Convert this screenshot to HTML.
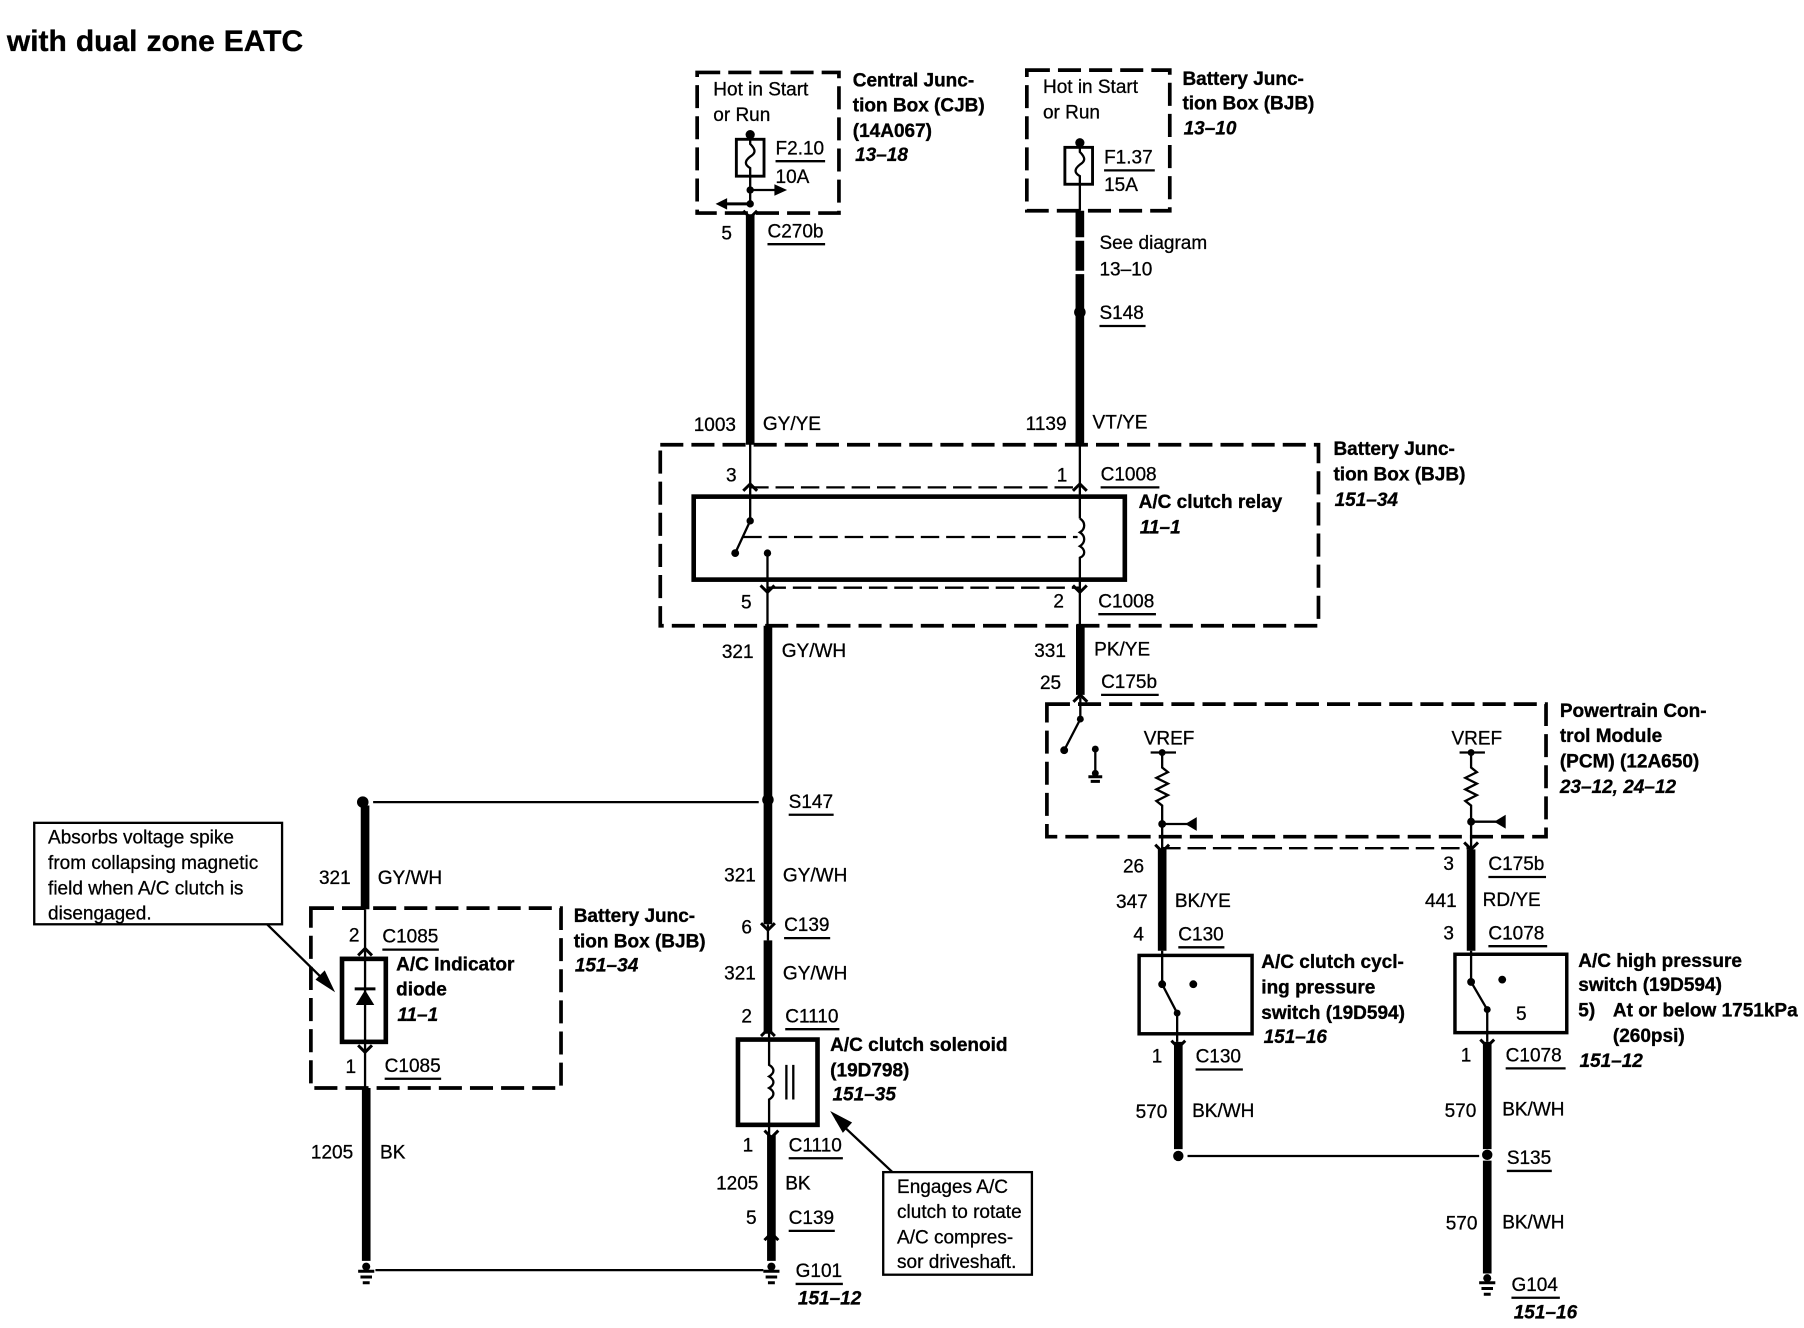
<!DOCTYPE html>
<html><head><meta charset="utf-8"><style>
html,body{margin:0;padding:0;background:#fff}
svg{display:block}
text{font-family:"Liberation Sans",sans-serif;font-size:16.5px;fill:#000;stroke:#000;stroke-width:.25}
.b{font-weight:bold;stroke-width:.3}
.i{font-weight:bold;font-style:italic}
.th{stroke:#000;stroke-width:2;fill:none}
.w{stroke:#000;stroke-width:7.5;fill:none}
.da{stroke:#000;stroke-width:3.2;fill:none;stroke-dasharray:20 7}
.dt{stroke:#000;stroke-width:2;fill:none;stroke-dasharray:16 6}
.bx{stroke:#000;fill:none}
.h{stroke:#000;stroke-width:2.6;fill:none}
</style></head><body>
<svg xmlns="http://www.w3.org/2000/svg" width="1804" height="1328" viewBox="0 0 1565 1152">
<rect width="1565" height="1152" fill="#fff"/>
<text x="6" y="44" style="font-size:26px;font-weight:bold;word-spacing:.6px;stroke-width:.3">with dual zone EATC</text>
<g transform="translate(-1.2,-0.2)">

<!-- top left fuse box -->
<rect class="da" x="606" y="63" width="123" height="122"/>
<text x="620" y="83">Hot in Start</text><text x="620" y="105">or Run</text>
<circle cx="652" cy="117" r="4"/>
<rect class="bx" stroke-width="2.5" x="640" y="121" width="24" height="32"/>
<path class="th" d="M652 117V125C657 130 657 133 652 136C647 140 647 143 652 146V180"/>
<text x="674" y="134">F2.10</text><path class="th" d="M674 140H717"/><text x="674" y="159">10A</text>
<circle cx="652" cy="165" r="3.2"/><circle cx="652" cy="177" r="3.2"/>
<path class="th" d="M652 165H675"/><path d="M673 160L684 165L673 170Z"/>
<path class="h" d="M652 177H630"/><path d="M632 172L622 177L632 182Z"/>
<path class="h" d="M646 183L652 189L658 183"/>
<path class="w" d="M652 186V386"/>
<text x="627" y="208">5</text><text x="667" y="206">C270b</text><path class="th" d="M667 212H717"/>
<text x="603" y="374">1003</text><text x="663" y="373">GY/YE</text>
<text class="b" x="741" y="75">Central Junc-</text><text class="b" x="741" y="97">tion Box (CJB)</text><text class="b" x="741" y="119">(14A067)</text><text class="i" x="743" y="140">13–18</text>

<!-- top right fuse box -->
<rect class="da" x="892" y="61" width="124" height="122"/>
<text x="906" y="81">Hot in Start</text><text x="906" y="103">or Run</text>
<circle cx="938" cy="124" r="4"/>
<rect class="bx" stroke-width="2.5" x="925" y="128" width="24" height="32"/>
<path class="th" d="M938 124V132C943 137 943 140 938 143C933 147 933 150 938 153V183"/>
<text x="959" y="142">F1.37</text><path class="th" d="M959 148H1003" stroke-width="1.5"/><text x="959" y="166">15A</text>
<path class="w" d="M938 183V206M938 209V235M938 238V385"/>
<circle cx="938" cy="271" r="5"/>
<text x="955" y="216">See diagram</text><text x="955" y="239">13–10</text>
<text x="955" y="277">S148</text><path class="th" d="M955 283H995"/>
<text x="891" y="373">1139</text><text x="949" y="372">VT/YE</text>
<text class="b" x="1027" y="74">Battery Junc-</text><text class="b" x="1027" y="95">tion Box (BJB)</text><text class="i" x="1028" y="117">13–10</text>

<!-- relay box -->
<rect class="da" x="574" y="386" width="571" height="157"/>
<text class="b" x="1158" y="395">Battery Junc-</text><text class="b" x="1158" y="417">tion Box (BJB)</text><text class="i" x="1159" y="439">151–34</text>
<path class="th" d="M652 385V452"/><path class="th" d="M938 385V450"/>
<path class="dt" d="M652 423H938"/>
<path class="h" d="M646 426L652 420L658 426M932 426L938 420L944 426"/>
<text x="631" y="418">3</text><text x="918" y="418">1</text>
<text x="956" y="417">C1008</text><path class="th" d="M956 423H1007"/>
<rect class="bx" stroke-width="4" x="603" y="431" width="374" height="72"/>
<text class="b" x="989" y="441">A/C clutch relay</text><text class="i" x="990" y="463">11–1</text>
<circle cx="652" cy="452" r="3.2"/><circle cx="639" cy="480" r="3.4"/><path class="th" d="M652 452L639 480"/>
<path class="dt" d="M646 466H936"/>
<circle cx="667" cy="480" r="3.2"/><path class="th" d="M667 480V545"/>
<path class="th" d="M938 450C943 453 943 459 938 462C943 465 943 471 938 474C943 477 943 482 938 484V545"/>
<path class="dt" d="M667 510H938"/>
<path class="h" d="M661 508L667 514L673 508M932 508L938 514L944 508"/>
<text x="644" y="528">5</text><text x="915" y="527">2</text>
<text x="954" y="527">C1008</text><path class="th" d="M954 533H1004"/>
</g>
<g transform="translate(-1.8,-1.2)">

<!-- middle wires -->
<path class="w" d="M668 544V803"/><path class="th" d="M668 803V817"/><path class="w" d="M668 817V898"/>
<path class="w" d="M939 543V604"/>
<text x="628" y="572">321</text><text x="680" y="571">GY/WH</text>
<text x="899" y="571">331</text><text x="951" y="570">PK/YE</text>
<text x="904" y="599">25</text><text x="957" y="598">C175b</text><path class="th" d="M957 604H1007"/>
<path class="h" d="M933 610L939 604L945 610"/>
<circle cx="668" cy="695" r="5"/>
<text x="686" y="702">S147</text><path class="th" d="M686 708H725"/>
<text x="630" y="766">321</text><text x="681" y="766">GY/WH</text>
<text x="645" y="811">6</text><text x="682" y="809">C139</text><path class="th" d="M682 815H722"/>
<path class="h" d="M662 802L668 808L674 802"/>
<text x="630" y="851">321</text><text x="681" y="851">GY/WH</text>
<text x="645" y="888">2</text><text x="683" y="888">C1110</text><path class="th" d="M683 894H730"/>
<path class="h" d="M662 900L668 894L674 900"/>

<!-- PCM -->
<rect class="da" x="910" y="612" width="433" height="115"/>
<text class="b" x="1355" y="623">Powertrain Con-</text><text class="b" x="1355" y="645">trol Module</text><text class="b" x="1355" y="667">(PCM) (12A650)</text><text class="i" x="1355" y="689">23–12, 24–12</text>
<path class="th" d="M939 606V625L925 652"/><circle cx="939" cy="625" r="3"/><circle cx="925" cy="652" r="3.4"/>
<circle cx="952" cy="651" r="3"/><path class="th" d="M952 651V672"/>
<circle cx="952" cy="672" r="3"/><path class="h" d="M946 675H958M948 679H956"/>
<text x="994" y="647">VREF</text><text x="1261" y="647">VREF</text>
<path class="th" d="M1000 654H1022M1268 654H1290"/>
<circle cx="1010" cy="654" r="3"/><circle cx="1278" cy="654" r="3"/>
<path class="th" d="M1010 654V667L1015 671L1005 676L1015 681L1005 686L1015 691L1005 696L1010 700V740"/>
<path class="th" d="M1278 654V667L1283 671L1273 676L1283 681L1273 686L1283 691L1273 696L1278 700V738"/>
<circle cx="1010" cy="716" r="3.4"/><circle cx="1278" cy="714" r="3.4"/>
<path class="th" d="M1010 716H1035M1278 714H1302"/>
<path d="M1040 710V722L1030 716Z"/><path d="M1308 708V720L1298 714Z"/>
<path class="dt" d="M1010 737H1278"/>
<path class="h" d="M1004 734L1010 740L1016 734M1272 732L1278 738L1284 732"/>

<path class="w" d="M1010 738V826" stroke-width="8"/><path class="w" d="M1278 738V826"/>
<text x="976" y="758">26</text><text x="1254" y="756">3</text>
<text x="1293" y="756">C175b</text><path class="th" d="M1293 762H1343"/>
<text x="970" y="789">347</text><text x="1021" y="788">BK/YE</text>
<text x="1238" y="788">441</text><text x="1288" y="787">RD/YE</text>
<text x="985" y="817">4</text><text x="1024" y="817">C130</text><path class="th" d="M1024 823H1064"/>
<text x="1254" y="816">3</text><text x="1293" y="816">C1078</text><path class="th" d="M1293 822H1344"/>

<!-- switches -->
<rect class="bx" stroke-width="3" x="990" y="830" width="98" height="68"/>
<rect class="bx" stroke-width="3" x="1264" y="829" width="97" height="68"/>
<path class="th" d="M1010 826V855L1023 880V905M1278 826V853L1292 877V905"/>
<circle cx="1010" cy="855" r="3.4"/><circle cx="1023" cy="880" r="3"/><circle cx="1037" cy="855" r="3.4"/>
<circle cx="1278" cy="853" r="3.4"/><circle cx="1292" cy="877" r="3"/><circle cx="1305" cy="851" r="3.4"/>
<text x="1317" y="886">5</text>
<path class="h" d="M1018 904L1024 910L1030 904M1286 903L1292 909L1298 903"/>
<text class="b" x="1096" y="841">A/C clutch cycl-</text><text class="b" x="1096" y="863">ing pressure</text><text class="b" x="1096" y="885">switch (19D594)</text><text class="i" x="1098" y="906">151–16</text>
<text class="b" x="1371" y="840">A/C high pressure</text><text class="b" x="1371" y="861">switch (19D594)</text>
<text class="b" x="1371" y="883">5)</text><text class="b" x="1401" y="883">At or below 1751kPa</text><text class="b" x="1401" y="905">(260psi)</text><text class="i" x="1372" y="927">151–12</text>

<path class="w" d="M1024 905V998"/><path class="w" d="M1292 905V998"/>
<text x="1001" y="923">1</text><text x="1039" y="923">C130</text><path class="th" d="M1039 929H1080"/>
<text x="1269" y="922">1</text><text x="1308" y="922">C1078</text><path class="th" d="M1308 928H1360"/>
<text x="987" y="971">570</text><text x="1036" y="970">BK/WH</text>
<text x="1255" y="970">570</text><text x="1305" y="969">BK/WH</text>
<circle cx="1024" cy="1004" r="4.5"/><circle cx="1292" cy="1003" r="4.5"/>
<path class="th" d="M1032 1004H1285"/>
<text x="1309" y="1011">S135</text><path class="th" d="M1309 1017H1348"/>
<path class="w" d="M1292 1008V1106"/>
<text x="1256" y="1068">570</text><text x="1305" y="1067">BK/WH</text>
<circle cx="1292" cy="1110" r="3.5"/><path class="h" d="M1285 1114H1299M1287 1119H1297M1289 1124H1295"/>
<text x="1313" y="1121">G104</text><path class="th" d="M1313 1127H1355"/><text class="i" x="1315" y="1145">151–16</text>

<!-- solenoid -->
<rect class="bx" stroke-width="4" x="642" y="903" width="69" height="74"/>
<text class="b" x="722" y="913">A/C clutch solenoid</text><text class="b" x="722" y="935">(19D798)</text><text class="i" x="724" y="956">151–35</text>
<path class="th" d="M669 896V925C674 928 674 932 669 935C674 938 674 942 669 945C674 948 674 952 669 955V985"/>
<path class="th" d="M684 925V955M690 925V955"/>
<path class="h" d="M665 982L671 988L677 982"/>
<path class="w" d="M671 986V1095"/>
<text x="646" y="1000">1</text><text x="686" y="1000">C1110</text><path class="th" d="M686 1006H733"/>
<text x="623" y="1033">1205</text><text x="683" y="1033">BK</text>
<text x="649" y="1063">5</text><text x="686" y="1063">C139</text><path class="th" d="M686 1069H726"/>
<path class="h" d="M665 1077L671 1071L677 1077"/>
<circle cx="671" cy="1100" r="3.5"/><path class="h" d="M664 1104H678M666 1109H676M668 1114H674"/>
<text x="692" y="1109">G101</text><path class="th" d="M692 1115H733"/><text class="i" x="694" y="1133">151–12</text>

<!-- callout 2 -->
<rect class="bx" stroke-width="2" x="768" y="1018" width="129" height="89"/>
<text x="780" y="1036">Engages A/C</text><text x="780" y="1058">clutch to rotate</text><text x="780" y="1080">A/C compres-</text><text x="780" y="1101">sor driveshaft.</text>
<path class="th" d="M776 1018L727 972"/><path d="M722 965L741 975L733 984Z"/>
</g>
<g transform="translate(-0.3,-1.2)">

<!-- S147 branch and diode -->
<circle cx="315" cy="697" r="5"/>
<path class="th" d="M324 697H658.5"/>
<path class="w" d="M317 700V790" stroke-width="6"/>
<text x="277" y="768">321</text><text x="328" y="768">GY/WH</text>
<rect class="da" x="270" y="789" width="217" height="156"/>
<text class="b" x="498" y="801">Battery Junc-</text><text class="b" x="498" y="823">tion Box (BJB)</text><text class="i" x="499" y="844">151–34</text>
<text x="303" y="818">2</text><text x="332" y="819">C1085</text><path class="th" d="M332 825H381"/>
<path class="th" d="M317 790V945"/>
<path class="h" d="M311 830L317 824L323 830M311 908L317 914L323 908"/>
<rect class="bx" stroke-width="4" x="297" y="833" width="38" height="72"/>
<path d="M309 873H325L317 860Z"/><path class="h" d="M308 859H326"/>
<text class="b" x="344" y="843">A/C Indicator</text><text class="b" x="344" y="865">diode</text><text class="i" x="345" y="887">11–1</text>
<text x="300" y="932">1</text><text x="334" y="931">C1085</text><path class="th" d="M334 937H383"/>
<path class="w" d="M318 945V1095"/>
<text x="270" y="1006">1205</text><text x="330" y="1006">BK</text>
<circle cx="318" cy="1100" r="3.5"/><path class="h" d="M311 1104H325M313 1109H323M315 1114H321"/>
<path class="th" d="M326 1103H662.5"/>

<!-- callout 1 -->
<rect class="bx" stroke-width="2" x="30" y="715" width="215" height="88"/>
<text x="42" y="733">Absorbs voltage spike</text><text x="42" y="755">from collapsing magnetic</text><text x="42" y="777">field when A/C clutch is</text><text x="42" y="799">disengaged.</text>
<path class="th" d="M232 803L285 855"/><path d="M291 862L274 851L282 843Z"/>
</g>
</svg>
</body></html>
